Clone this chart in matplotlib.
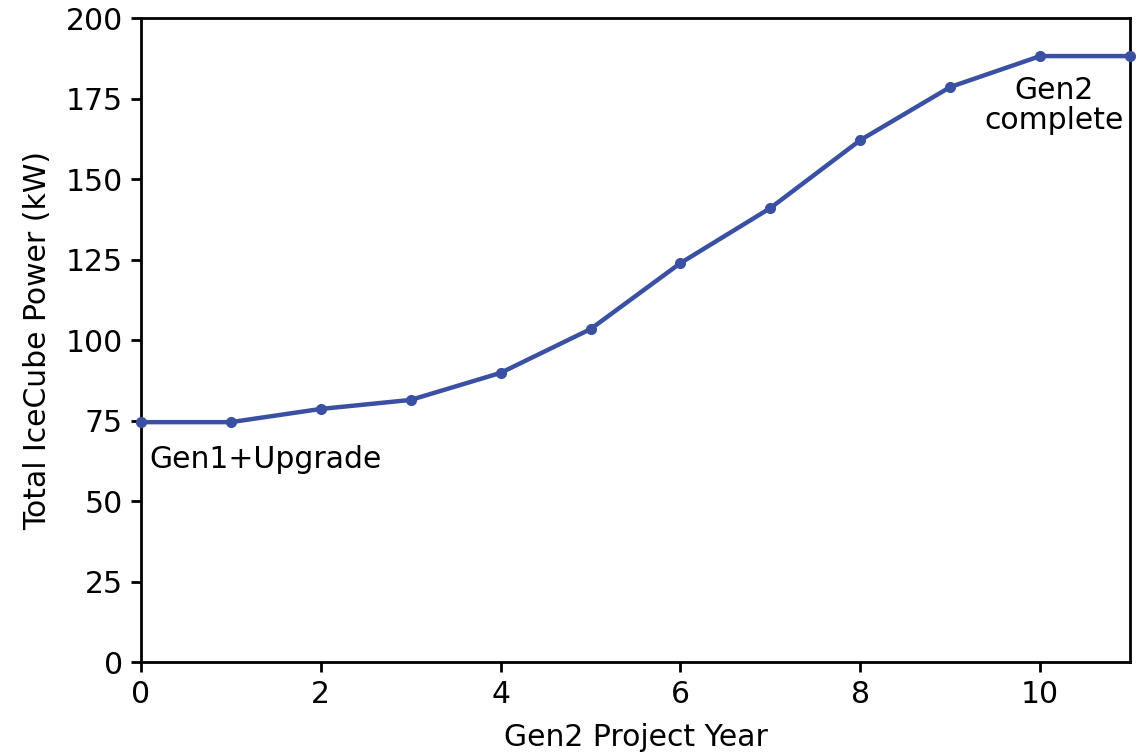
import matplotlib
matplotlib.use("Agg")
import matplotlib.pyplot as plt

years = [0, 1, 2, 3, 4, 5, 6, 7, 8, 9, 10, 11]
power_kw = [74.5, 74.5, 78.6, 81.4, 89.8, 103.4, 123.9, 141.0, 162.1, 178.6, 188.2, 188.2]

plt.rcParams['font.family'] = 'DejaVu Sans'
plt.rcParams['font.size'] = 21.5

fig = plt.figure(figsize=(11.45, 7.54), dpi=100)
ax = fig.add_axes([0.123, 0.122, 0.864, 0.854])

ax.plot(years, power_kw, color='#3a50a2', lw=3.2, marker='o', ms=7, clip_on=False, zorder=3)

ax.text(0.1, 67.5, 'Gen1+Upgrade', ha='left', va='top')
ax.text(10.15, 182, 'Gen2\ncomplete', ha='center', va='top', linespacing=1.05)

ax.set_xlim(0, 11)
ax.set_ylim(0, 200)
ax.set_xticks([0, 2, 4, 6, 8, 10])
ax.set_yticks([0, 25, 50, 75, 100, 125, 150, 175, 200])
ax.set_xlabel('Gen2 Project Year', labelpad=10)
ax.set_ylabel('Total IceCube Power (kW)', labelpad=10)
for s in ax.spines.values():
    s.set_linewidth(2)
ax.tick_params(width=2, length=7, pad=6)

fig.savefig('out.png', dpi=100)
